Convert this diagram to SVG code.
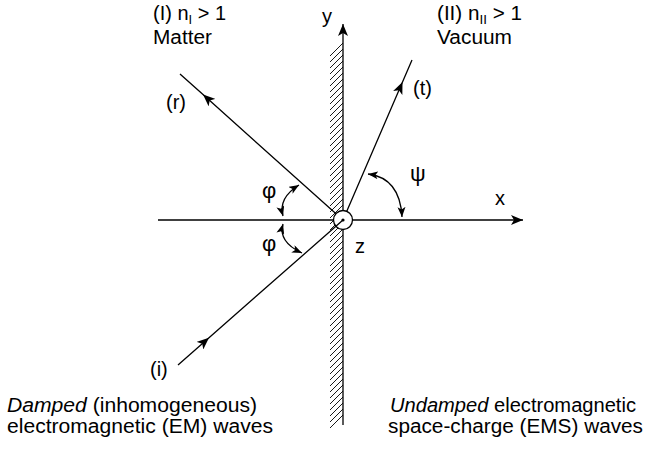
<svg xmlns="http://www.w3.org/2000/svg" width="650" height="449" viewBox="0 0 650 449">
<style>
text{font-family:"Liberation Sans",Arial,sans-serif;font-size:20px;fill:#000}
.ln{stroke:#000;stroke-width:1.3;fill:none}
.h{stroke:#000;stroke-width:0.9;fill:none}
.it{font-style:italic}
.sub{font-size:13px}
.gr{font-size:22px}
</style>
<defs>
<marker id="ah" viewBox="0 0 12 10" refX="12" refY="5" markerWidth="12" markerHeight="10" markerUnits="userSpaceOnUse" orient="auto-start-reverse">
<path d="M0,0 L12,5 L0,10 L3,5 Z" fill="#000"/>
</marker>
<marker id="sa" viewBox="0 0 10 8" refX="10" refY="4" markerWidth="10" markerHeight="8" markerUnits="userSpaceOnUse" orient="auto-start-reverse">
<path d="M0,0 L10,4 L0,8 L2.5,4 Z" fill="#000"/>
</marker>
</defs>
<rect width="650" height="449" fill="#fff"/>
<g id="axes">
<path class="ln" d="M158,220 L523,220" marker-end="url(#ah)"/>
<path class="ln" d="M343,425 L343,24" marker-end="url(#ah)"/>
</g>
<g id="wall">
<path class="h" d="M330,56l13,-13M330,62l13,-13M330,68l13,-13M330,74l13,-13M330,80l13,-13M330,86l13,-13M330,92l13,-13M330,98l13,-13M330,104l13,-13M330,110l13,-13M330,116l13,-13M330,122l13,-13M330,128l13,-13M330,134l13,-13M330,140l13,-13M330,146l13,-13M330,152l13,-13M330,158l13,-13M330,164l13,-13M330,170l13,-13M330,176l13,-13M330,182l13,-13M330,188l13,-13M330,194l13,-13M330,200l13,-13M330,206l13,-13M330,212l13,-13M330,218l13,-13M330,224l13,-13M330,230l13,-13M330,236l13,-13M330,242l13,-13M330,248l13,-13M330,254l13,-13M330,260l13,-13M330,266l13,-13M330,272l13,-13M330,278l13,-13M330,284l13,-13M330,290l13,-13M330,296l13,-13M330,302l13,-13M330,308l13,-13M330,314l13,-13M330,320l13,-13M330,326l13,-13M330,332l13,-13M330,338l13,-13M330,344l13,-13M330,350l13,-13M330,356l13,-13M330,362l13,-13M330,368l13,-13M330,374l13,-13M330,380l13,-13M330,386l13,-13M330,392l13,-13M330,398l13,-13M330,404l13,-13M330,410l13,-13M330,416l13,-13M330,422l13,-13M330,428l13,-13"/>
</g>
<g id="connectors">
<path id="ray-r" class="ln" d="M343,220 L203,94.6 L180,74" marker-mid="url(#ah)"/>
<path id="ray-t" class="ln" d="M343,220 L402.5,82 L412,60" marker-mid="url(#ah)"/>
<path id="arc-phi1" class="ln" d="M299,185 Q278,198 283,216" marker-start="url(#sa)" marker-end="url(#sa)"/>
<path id="arc-phi2" class="ln" d="M283,224 Q278,242 302,253" marker-start="url(#sa)" marker-end="url(#sa)"/>
<path id="arc-psi" class="ln" d="M368,174 Q400,178 402,217" marker-start="url(#sa)" marker-end="url(#sa)"/>
</g>
<g id="origin">
<circle cx="343" cy="220" r="9.5" fill="#fff" stroke="#000" stroke-width="1.3"/>
</g>
<g id="incident">
<path id="ray-i" class="ln" d="M178,365 L209,337.8 L343,220" marker-mid="url(#ah)"/>
<circle cx="343" cy="220" r="1.6" fill="#000"/>
</g>
<g id="labels">
<text x="153" y="20" textLength="73" lengthAdjust="spacingAndGlyphs">(I) n<tspan class="sub" dy="4">I</tspan><tspan dy="-4"> &gt; 1</tspan></text>
<text x="153" y="44" textLength="59" lengthAdjust="spacingAndGlyphs">Matter</text>
<text x="437" y="20" textLength="85" lengthAdjust="spacingAndGlyphs">(II) n<tspan class="sub" dy="4">II</tspan><tspan dy="-4"> &gt; 1</tspan></text>
<text x="437" y="44" textLength="75" lengthAdjust="spacingAndGlyphs">Vacuum</text>
<text x="322" y="23">y</text>
<text x="413" y="95">(t)</text>
<text x="166" y="109">(r)</text>
<text class="gr" x="410" y="181">ψ</text>
<text x="495" y="205">x</text>
<text class="gr" x="262" y="198">φ</text>
<text class="gr" x="262" y="251">φ</text>
<text x="355" y="253">z</text>
<text x="150" y="376">(i)</text>
<text x="7" y="412" textLength="250" lengthAdjust="spacingAndGlyphs"><tspan class="it">Damped</tspan> (inhomogeneous)</text>
<text x="7" y="433" textLength="266" lengthAdjust="spacingAndGlyphs">electromagnetic (EM) waves</text>
<text x="390" y="412" textLength="246" lengthAdjust="spacingAndGlyphs"><tspan class="it">Undamped</tspan> electromagnetic</text>
<text x="388" y="433" textLength="255" lengthAdjust="spacingAndGlyphs">space-charge (EMS) waves</text>
</g>
</svg>
